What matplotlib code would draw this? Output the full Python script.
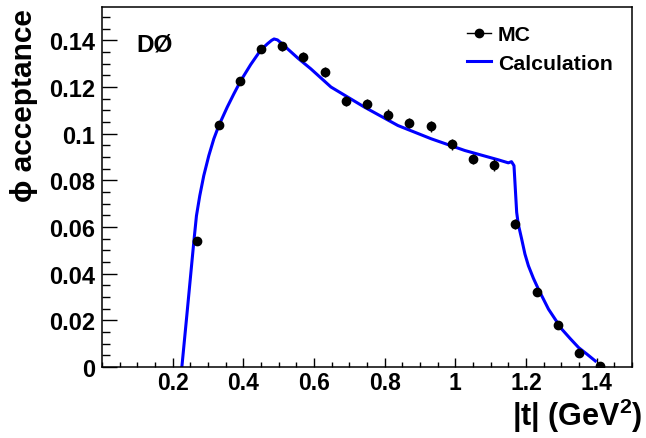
import matplotlib
matplotlib.use("Agg")
import matplotlib.pyplot as plt
from matplotlib.lines import Line2D
from matplotlib.ticker import MultipleLocator

plt.rcParams['font.family'] = ['Liberation Sans', 'DejaVu Sans']
plt.rcParams['font.weight'] = 'bold'
plt.rcParams['mathtext.fontset'] = 'custom'
plt.rcParams['mathtext.rm'] = 'Liberation Sans:bold'
plt.rcParams['mathtext.bf'] = 'Liberation Sans:bold'
plt.rcParams['mathtext.default'] = 'bf'

# MC points (bin centres, acceptance, error)
mc_t = [0.27, 0.33, 0.39, 0.45, 0.51, 0.57, 0.63, 0.69, 0.75, 0.81,
        0.87, 0.93, 0.99, 1.05, 1.11, 1.17, 1.23, 1.29, 1.35, 1.41]
mc_acc = [0.0538, 0.1038, 0.1226, 0.1364, 0.1374, 0.1329, 0.1264, 0.1140, 0.1128, 0.1082,
          0.1047, 0.1031, 0.0955, 0.0892, 0.0866, 0.0613, 0.0322, 0.0180, 0.0059, 0.0003]
mc_err = [0.0015, 0.0017, 0.0018, 0.0018, 0.0019, 0.0020, 0.0021, 0.0022, 0.0022, 0.0022,
          0.0022, 0.0023, 0.0023, 0.0023, 0.0024, 0.0020, 0.0015, 0.0012, 0.0008, 0.0003]

# calculated curve
calc_t = [0.226, 0.240, 0.2597, 0.2673, 0.2767, 0.288, 0.3023, 0.3165, 0.3307, 0.3545,
          0.3733, 0.3923, 0.4207, 0.449, 0.468, 0.480, 0.487, 0.4966, 0.510, 0.525,
          0.555, 0.591, 0.648, 0.7426, 0.8375, 0.932, 1.0267, 1.1216, 1.150, 1.159,
          1.166, 1.1736, 1.178, 1.1878, 1.197, 1.2068, 1.221, 1.235, 1.2636, 1.2824,
          1.3014, 1.325, 1.349, 1.3725, 1.396]
calc_acc = [0.0, 0.022, 0.0534, 0.0648, 0.0734, 0.0820, 0.0906, 0.0978, 0.1035, 0.1114,
            0.1171, 0.1226, 0.1296, 0.1358, 0.1385, 0.1400, 0.1406, 0.1402, 0.1385, 0.1364,
            0.1323, 0.1278, 0.1200, 0.1114, 0.1035, 0.0978, 0.0928, 0.0888, 0.0875, 0.0880,
            0.0863, 0.0663, 0.0613, 0.0548, 0.0484, 0.0434, 0.0380, 0.0334, 0.0248, 0.0205,
            0.0162, 0.0122, 0.0083, 0.0055, 0.0026]

x_ticks = [0.2, 0.4, 0.6, 0.8, 1.0, 1.2, 1.4]
x_labels = ['0.2', '0.4', '0.6', '0.8', '1', '1.2', '1.4']
y_ticks = [0, 0.02, 0.04, 0.06, 0.08, 0.10, 0.12, 0.14]
y_labels = ['0', '0.02', '0.04', '0.06', '0.08', '0.1', '0.12', '0.14']

fig = plt.figure(figsize=(6.46, 4.39), dpi=100)
ax = fig.add_axes([102/646, 1 - 368/439, 530/646, 360/439])

ax.plot(calc_t, calc_acc, color='#0000ff', lw=2.2, zorder=2)
ax.errorbar(mc_t, mc_acc, yerr=mc_err, fmt='o', color='black', ms=6,
            elinewidth=1.0, capsize=0, zorder=3)

ax.set_xlim(0, 1.5)
ax.set_ylim(0, 0.1543)
ax.set_xticks(x_ticks)
ax.set_xticklabels(x_labels)
ax.set_yticks(y_ticks)
ax.set_yticklabels(y_labels)
ax.xaxis.set_minor_locator(MultipleLocator(0.05))
ax.yaxis.set_minor_locator(MultipleLocator(0.005))

ax.tick_params(axis='both', which='both', direction='in', width=1.0)
ax.tick_params(axis='x', which='major', length=6.7, pad=3, labelsize=16.5)
ax.tick_params(axis='x', which='minor', length=3.3)
ax.tick_params(axis='y', which='major', length=10.5, pad=5, labelsize=17)
ax.tick_params(axis='y', which='minor', length=5.5)
for s in ax.spines.values():
    s.set_linewidth(1.1)

# axis titles, ROOT style (aligned to the axis ends)
fig.text(24/646, 1 - 9/439, 'ϕ acceptance', fontsize=21.5, fontweight='bold',
         rotation=90, ha='center', va='top')
fig.text(643/646, 1 - 416/439, '|t| (GeV$^{2}$)', fontsize=22, fontweight='bold',
         ha='right', va='center')

ax.text(0.065, 0.898, 'DØ', transform=ax.transAxes, fontsize=17.5,
        fontweight='bold', va='center', ha='left')

handles = [Line2D([], [], color='black', marker='o', ms=6, lw=1.0),
           Line2D([], [], color='#0000ff', lw=2.2)]
ax.legend(handles, ['MC', 'Calculation'], loc='upper left',
          bbox_to_anchor=(0.689, 0.95), frameon=False, fontsize=15.3,
          handlelength=1.1, handletextpad=0.35, labelspacing=0.45,
          borderpad=0, borderaxespad=0)

fig.savefig('out.png', dpi=100)
